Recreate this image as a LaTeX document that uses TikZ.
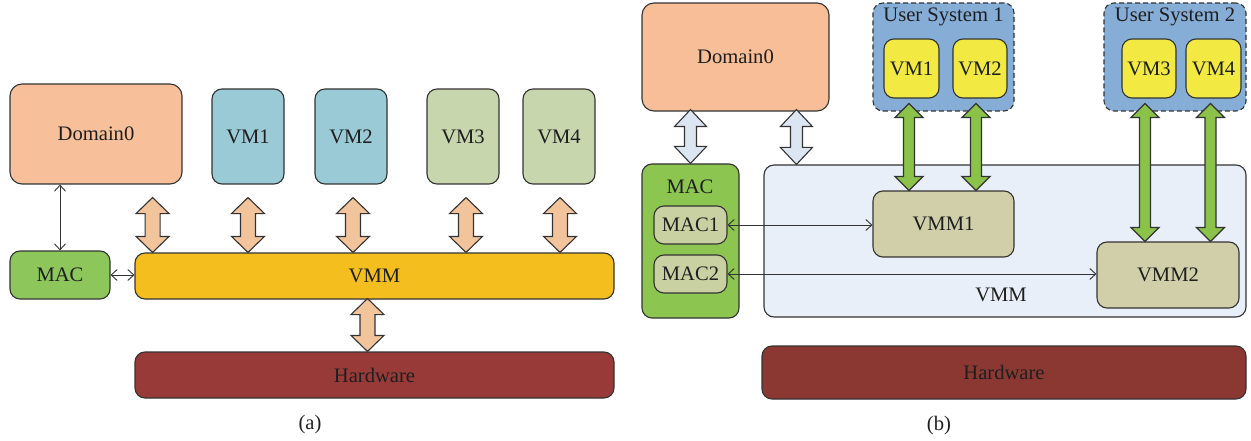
\documentclass[tikz,border=0pt]{standalone}
\usepackage{fontspec}
\setmainfont{Liberation Serif}
\usetikzlibrary{arrows.meta,calc}
\definecolor{linecol}{HTML}{333333}
\definecolor{txtcol}{HTML}{1E1E1E}
\definecolor{cDomA}{HTML}{F8C09A}
\definecolor{cVMab}{HTML}{9ACAD6}
\definecolor{cVMag}{HTML}{C7D6AC}
\definecolor{cMACa}{HTML}{8DC75C}
\definecolor{cVMMa}{HTML}{F3BE1E}
\definecolor{cHWa}{HTML}{983B38}
\definecolor{cFatA}{HTML}{F2C49C}
\definecolor{cDomB}{HTML}{F8BE98}
\definecolor{cFatB}{HTML}{DCE6F2}
\definecolor{cMACb}{HTML}{8DC551}
\definecolor{cMACs}{HTML}{C9D1A3}
\definecolor{cVMMb}{HTML}{E8EFF8}
\definecolor{cVMMs}{HTML}{D0CFA9}
\definecolor{cUS}{HTML}{85ADD6}
\definecolor{cVMb}{HTML}{F2EA42}
\definecolor{cGreen}{HTML}{8BC34A}
\definecolor{cHWb}{HTML}{8B3833}
\newcommand\bx[8]{\node[#1, fill=#7, minimum width={(#5-#3)*1pt}, minimum height={(#6-#4)*1pt}] (#2) at ({(#3+#5)/2},{(#4+#6)/2}) {#8};}
% #1 style, #2 top point, #3 bottom point, #4 head half width, #5 body half width, #6 head length
\newcommand\fatarrow[6]{\draw[#1] let \p1=#2, \p2=#3 in
  (\x1,\y1) -- (\x1+#4pt,\y1-#6pt) -- (\x1+#5pt,\y1-#6pt) -- (\x1+#5pt,\y2+#6pt) -- (\x1+#4pt,\y2+#6pt)
  -- (\x1,\y2) -- (\x1-#4pt,\y2+#6pt) -- (\x1-#5pt,\y2+#6pt) -- (\x1-#5pt,\y1-#6pt) -- (\x1-#4pt,\y1-#6pt) -- cycle;}
\begin{document}
\begin{tikzpicture}[x=1pt,y=-1pt,
  every node/.style={font=\fontsize{20.6}{24}\selectfont, text=txtcol},
  box/.style={draw=linecol, line width=1.1pt, rounded corners=10pt, inner sep=0pt},
  usbox/.style={box, dashed, dash pattern=on 5pt off 3pt},
  fatA/.style={draw=linecol, line width=1.1pt, fill=cFatA, line join=miter},
  fatB/.style={draw=linecol, line width=1.1pt, fill=cFatB, line join=miter},
  fatG/.style={draw=linecol, line width=1.3pt, fill=cGreen, line join=miter},
  thin/.style={draw=linecol, line width=0.9pt, {Straight Barb[length=6pt,width=11pt]}-{Straight Barb[length=6pt,width=11pt]}}]
\useasboundingbox (0,0) rectangle (1251,441);
% ---------- panel (a) ----------
\bx{box, rounded corners=12pt}{dA}{10}{84}{182}{184}{cDomA}{Domain0}
\bx{box}{vm1a}{212}{89}{284}{184}{cVMab}{VM1}
\bx{box}{vm2a}{315}{89}{387}{184}{cVMab}{VM2}
\bx{box}{vm3a}{427}{89}{499}{184}{cVMag}{VM3}
\bx{box}{vm4a}{523}{89}{595}{184}{cVMag}{VM4}
\bx{box}{macA}{10}{251}{110}{299}{cMACa}{MAC}
\bx{box}{vmmA}{135}{253}{614}{299}{cVMMa}{VMM}
\bx{box}{hwA}{135}{352}{614}{398}{cHWa}{Hardware}
\draw[thin] (dA.south -| macA.north) -- (macA.north);
\draw[thin] (macA.east) -- (vmmA.west |- macA.east);
\fatarrow{fatA}{([xshift=-30pt,yshift=-13pt]dA.south east)}{(vmmA.north)}{16.5}{7.5}{16}
\fatarrow{fatA}{([yshift=-13pt]vm1a.south)}{(vmmA.north)}{16.5}{7.5}{16}
\fatarrow{fatA}{([xshift=2pt,yshift=-13pt]vm2a.south)}{(vmmA.north)}{16.5}{7.5}{16}
\fatarrow{fatA}{([xshift=3pt,yshift=-13pt]vm3a.south)}{(vmmA.north)}{16.5}{7.5}{16}
\fatarrow{fatA}{([xshift=1pt,yshift=-13pt]vm4a.south)}{(vmmA.north)}{16.5}{7.5}{16}
\fatarrow{fatA}{([xshift=-7pt,yshift=1pt]vmmA.south)}{(hwA.north)}{16.5}{7.5}{16}
\node (capA) at (310,425) {(a)};
% ---------- panel (b) ----------
\bx{box, rounded corners=12pt}{dB}{642}{3}{829}{111}{cDomB}{Domain0}
\bx{usbox}{us1}{873}{3}{1014}{111}{cUS}{}
\bx{usbox}{us2}{1104}{3}{1246}{111}{cUS}{}
\node (us1t) at (943.5,17) {User System 1};
\node (us2t) at (1175,17) {User System 2};
\bx{box}{vm1b}{884}{39}{939}{98}{cVMb}{VM1}
\bx{box}{vm2b}{953}{39}{1007}{98}{cVMb}{VM2}
\bx{box}{vm3b}{1122}{39}{1176}{98}{cVMb}{VM3}
\bx{box}{vm4b}{1186}{39}{1241}{98}{cVMb}{VM4}
\bx{box}{macB}{642}{164}{739}{318}{cMACb}{}
\node (macBt) at (690,187) {MAC};
\bx{box}{mac1}{654}{206}{727}{244}{cMACs}{MAC1}
\bx{box}{mac2}{654}{255}{727}{293}{cMACs}{MAC2}
\bx{box}{vmmB}{764}{165}{1246}{317}{cVMMb}{}
\node (vmmBt) at (1001,295) {VMM};
\bx{box}{vmm1}{873}{191}{1014}{257}{cVMMs}{VMM1}
\bx{box}{vmm2}{1097}{242}{1239}{308}{cVMMs}{VMM2}
\bx{box}{hwB}{762}{346}{1246}{399}{cHWb}{Hardware}
\coordinate (vmmBa) at ([xshift=33pt]vmmB.north west);
\fatarrow{fatB}{([yshift=2pt]dB.south -| macB.north)}{(macB.north)}{16}{6}{17}
\fatarrow{fatB}{([yshift=2pt]dB.south -| vmmBa)}{(vmmBa)}{16}{6}{17}
\fatarrow{fatG}{([xshift=-2.5pt,yshift=-5pt]vm1b.south)}{(vmm1.north)}{14}{5.5}{14}
\fatarrow{fatG}{([xshift=-4pt,yshift=-5pt]vm2b.south)}{(vmm1.north)}{14}{5.5}{14}
\fatarrow{fatG}{([xshift=-4pt,yshift=-5pt]vm3b.south)}{(vmm2.north)}{14}{5.5}{14}
\fatarrow{fatG}{([xshift=-3pt,yshift=-5pt]vm4b.south)}{(vmm2.north)}{14}{5.5}{14}
\draw[thin] (mac1.east) -- (mac1.east -| vmm1.west);
\draw[thin] (mac2.east) -- (mac2.east -| vmm2.west);
\node (capB) at (939,426) {(b)};
\end{tikzpicture}
\end{document}
